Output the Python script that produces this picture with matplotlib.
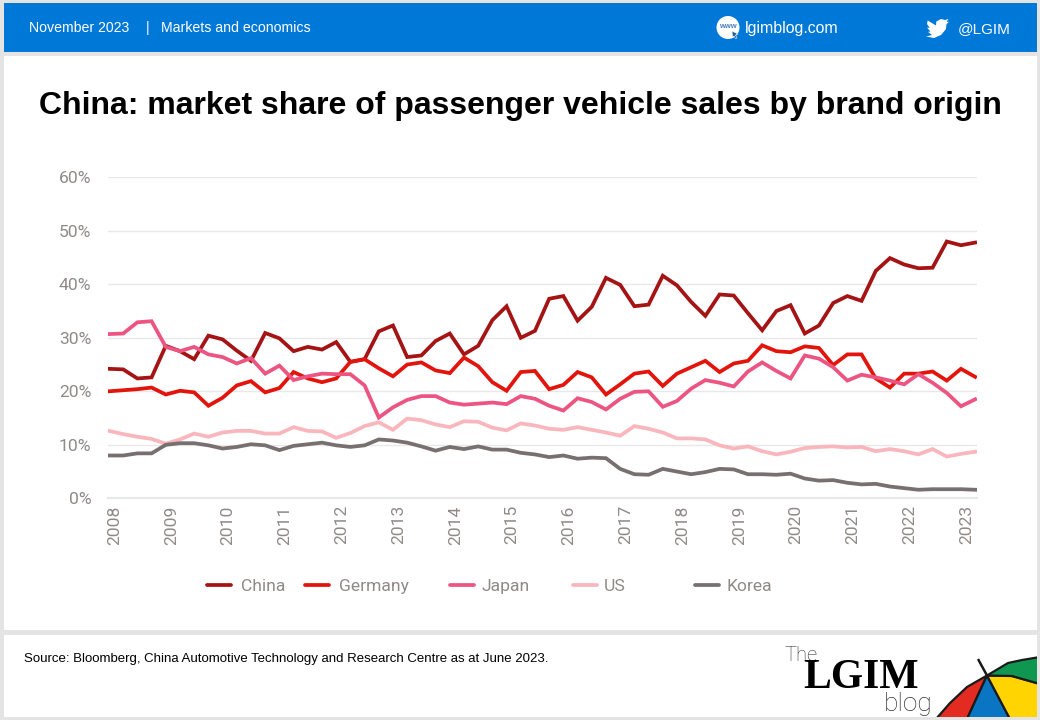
import matplotlib
matplotlib.use("Agg")
import matplotlib.pyplot as plt
from matplotlib.patches import Rectangle, Polygon, Circle
from matplotlib.transforms import ScaledTranslation

# quarterly market share, 2008 Q1 to 2023 Q2
china = [24.2, 24.1, 22.4, 22.6, 28.5, 27.5, 26.0, 30.4, 29.7, 27.6, 25.7, 30.9, 29.9, 27.5, 28.3, 27.8,
         29.2, 25.5, 26.0, 31.2, 32.3, 26.4, 26.7, 29.4, 30.8, 26.9, 28.5, 33.3, 35.9, 30.0, 31.3, 37.3,
         37.8, 33.2, 35.8, 41.2, 39.9, 35.9, 36.2, 41.6, 39.8, 36.7, 34.1, 38.1, 37.9, 34.6, 31.4, 35.0,
         36.1, 30.8, 32.3, 36.5, 37.8, 36.9, 42.5, 44.9, 43.7, 43.0, 43.1, 48.0, 47.3, 47.8]
germany = [20.0, 20.2, 20.4, 20.7, 19.4, 20.1, 19.8, 17.3, 18.8, 21.1, 21.9, 19.8, 20.6, 23.6, 22.4, 21.7,
           22.4, 25.5, 26.0, 24.3, 22.8, 25.0, 25.4, 23.9, 23.4, 26.3, 24.7, 21.7, 20.1, 23.6, 23.8, 20.4,
           21.2, 23.6, 22.6, 19.4, 21.3, 23.3, 23.7, 21.0, 23.3, 24.5, 25.7, 23.6, 25.2, 25.7, 28.6, 27.5,
           27.3, 28.4, 28.1, 24.9, 26.9, 26.9, 22.4, 20.7, 23.3, 23.3, 23.7, 22.0, 24.2, 22.7]
japan = [30.7, 30.8, 32.9, 33.1, 28.3, 27.5, 28.3, 26.9, 26.4, 25.2, 26.2, 23.3, 24.8, 22.1, 22.8, 23.3,
         23.2, 23.2, 21.1, 15.1, 17.0, 18.4, 19.1, 19.1, 17.9, 17.5, 17.7, 17.9, 17.6, 19.1, 18.6, 17.3,
         16.4, 18.7, 18.0, 16.6, 18.6, 19.9, 20.0, 17.1, 18.2, 20.5, 22.1, 21.6, 20.9, 23.7, 25.4, 23.8,
         22.4, 26.7, 26.1, 24.5, 22.0, 23.1, 22.6, 22.0, 21.3, 23.2, 21.6, 19.7, 17.2, 18.5]
us = [12.6, 12.0, 11.5, 11.1, 10.2, 11.0, 12.1, 11.5, 12.3, 12.6, 12.6, 12.1, 12.1, 13.3, 12.6, 12.5,
      11.3, 12.2, 13.5, 14.2, 12.8, 14.9, 14.6, 13.8, 13.3, 14.4, 14.3, 13.2, 12.7, 14.0, 13.6, 13.0,
      12.8, 13.3, 12.8, 12.3, 11.7, 13.5, 13.0, 12.3, 11.2, 11.2, 11.0, 9.9, 9.3, 9.7, 8.8, 8.2,
      8.7, 9.4, 9.6, 9.7, 9.5, 9.6, 8.8, 9.2, 8.8, 8.2, 9.2, 7.8, 8.3, 8.7]
korea = [8.0, 8.0, 8.4, 8.4, 10.0, 10.3, 10.3, 9.9, 9.3, 9.6, 10.1, 9.9, 9.0, 9.8, 10.1, 10.4,
         9.9, 9.6, 9.9, 11.0, 10.8, 10.4, 9.7, 8.9, 9.6, 9.2, 9.7, 9.1, 9.1, 8.5, 8.2, 7.7,
         8.0, 7.4, 7.6, 7.5, 5.5, 4.5, 4.4, 5.5, 5.0, 4.5, 4.9, 5.5, 5.4, 4.5, 4.5, 4.4,
         4.6, 3.7, 3.3, 3.4, 2.9, 2.6, 2.7, 2.2, 1.9, 1.6, 1.7, 1.7, 1.7, 1.6]

series_names = ["China", "Germany", "Japan", "US", "Korea"]
series_values = [china, germany, japan, us, korea]
series_colors = ["#A51414", "#E2140C", "#EC5482", "#F9B6BC", "#77706F"]
years = [str(y) for y in range(2008, 2024)]
y_ticks = [0, 10, 20, 30, 40, 50, 60]

# where each legend entry starts, in pixels
legend_x = [205, 303, 448, 571, 693]

BLUE = "#0078D7"
GREY_TEXT = "#8F8A88"
PAGE = "#E4E4E4"

W, H = 1040, 720
fig = plt.figure(figsize=(W / 100, H / 100), dpi=100, facecolor=PAGE)

# page furniture, drawn in pixel coordinates
bg = fig.add_axes([0, 0, 1, 1], zorder=0)
bg.set_xlim(0, W)
bg.set_ylim(H, 0)
bg.axis("off")
bg.add_patch(Rectangle((4, 3), 1032.5, 49, fc=BLUE, ec="none"))
bg.add_patch(Rectangle((4, 56), 1032.5, 574, fc="white", ec="none"))
panel = Rectangle((4, 634.5), 1032.5, 82, fc="white", ec="none")
bg.add_patch(panel)

head = dict(family="Liberation Sans", color="white", va="center")
bg.text(29, 28, "November 2023", fontsize=10.2, **head)
bg.text(145.5, 28, "|", fontsize=10.2, **head)
bg.text(161, 28, "Markets and economics", fontsize=10.2, **head)
bg.text(745, 29, "lgimblog.com", fontsize=11.4, **head)
bg.text(958, 29, "@LGIM", fontsize=11, **head)

# www icon
bg.add_patch(Circle((728, 27.5), 11.5, fc="white", ec="none"))
bg.text(728, 27, "www", fontsize=5.5, fontweight="bold", color="#4A7EBB", ha="center", va="center",
        family="Liberation Sans")
bg.add_patch(Polygon([(732, 31), (738, 34), (735.5, 35), (737, 38), (735.5, 38.5), (734, 36), (732.5, 37)],
                     fc="#1F5F99", ec="white", lw=0.4))

# twitter bird
bird = [(941, 19), (945, 20), (948.5, 19), (946.5, 22), (949, 21.7), (946.5, 24.2), (946, 29), (941, 35),
        (934, 38), (926, 36.5), (932, 35), (928, 31.8), (930.5, 31.6), (927, 27.5), (929.8, 28), (927, 24),
        (927.7, 20.5), (936, 25.5), (936.3, 21.5)]
bg.add_patch(Polygon(bird, fc="white", ec="none"))

bg.text(520, 106, "China: market share of passenger vehicle sales by brand origin", family="Liberation Sans",
        fontweight="bold", fontsize=23.05, color="black", ha="center", va="center")
bg.text(24, 659, "Source: Bloomberg, China Automotive Technology and Research Centre as at June 2023.",
        family="Liberation Sans", fontsize=9.57, color="black", va="center")

# logo text
bg.text(784, 661, "The", family="Roboto", fontweight="light", fontsize=14.5, color="#333333", va="baseline")
bg.text(803, 688, "LGIM", family="Liberation Serif", fontweight="bold", fontsize=30, color="black", va="baseline")
blog = bg.text(884, 711, "blog", family="Roboto", fontweight="light", fontsize=19, color="#333333", va="baseline")
blog.set_clip_path(panel)

# umbrella
pivot = (987, 675.5)
rib_right = [(1012, 676), (1040, 684)]
umbrella = [
    ("#E32B22", [(936, 719), (950, 703), (967, 687), pivot, (967, 719)]),
    ("#0A75C2", [pivot, (967, 719), (1010, 719)]),
    ("#FFD400", [pivot, (1010, 719), (1040, 719), rib_right[1], rib_right[0]]),
    ("#0F9650", [pivot, (1008, 663), (1022, 660), (1040, 657), rib_right[1], rib_right[0]]),
]
for color, pts in umbrella:
    p = Polygon(pts, fc=color, ec="#1A1A1A", lw=1.6, joinstyle="round")
    bg.add_patch(p)
    p.set_clip_path(panel)
bg.plot([978, pivot[0]], [659, pivot[1]], color="#1A1A1A", lw=1.8, solid_capstyle="butt")

# legend
for x0, name, color in zip(legend_x, series_names, series_colors):
    bg.plot([x0 + 2, x0 + 26], [584.5, 584.5], color=color, lw=2.7, solid_capstyle="round")
    offset = 36 if name in ("China", "Germany") else 33
    bg.text(x0 + offset, 591, name, family="Roboto", fontsize=12.6, color=GREY_TEXT, va="baseline")

# chart
ax = fig.add_axes([108 / W, (H - 498.3) / H, (977 - 108) / W, 321 / H], zorder=1)
ax.patch.set_visible(False)
for name, values, color in zip(series_names, series_values, series_colors):
    ax.plot(range(len(values)), values, color=color, lw=2.7, label=name, solid_joinstyle="miter")

ax.set_xlim(-0.07, 61.13)
ax.set_ylim(0, 60)
ax.set_yticks(y_ticks)
ax.set_yticklabels([f"{v}%" for v in y_ticks])
ax.set_xticks(range(0, 4 * len(years), 4))
ax.set_xticklabels(years, rotation=90)
ax.tick_params(axis="both", length=0, labelsize=12.6, labelcolor=GREY_TEXT)
ax.tick_params(axis="y", pad=12)
ax.tick_params(axis="x", pad=5)
for lab in ax.get_xticklabels() + ax.get_yticklabels():
    lab.set_family("Roboto")
for lab in ax.get_xticklabels():
    lab.set_transform(lab.get_transform() + ScaledTranslation(5.5 / 100, 0, fig.dpi_scale_trans))
ax.grid(axis="y", color="#E8E8E8", lw=1.0)
ax.set_axisbelow(True)
for side in ("top", "right", "left"):
    ax.spines[side].set_visible(False)
ax.spines["bottom"].set_color("#E8E8E8")
ax.spines["bottom"].set_linewidth(1.6)

fig.savefig("out.png", dpi=100, facecolor=PAGE)
